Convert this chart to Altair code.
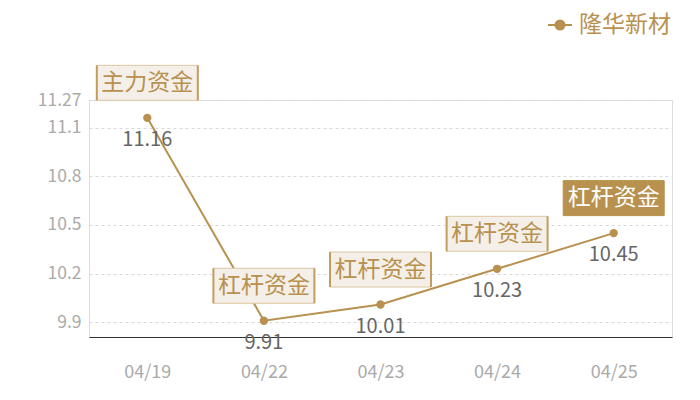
import altair as alt
import pandas as pd

dates = ["04/19", "04/22", "04/23", "04/24", "04/25"]
values = [11.16, 9.91, 10.01, 10.23, 10.45]
tags = ["主力资金", "杠杆资金", "杠杆资金", "杠杆资金", "杠杆资金"]
highlight = [False, False, False, False, True]
series_name = "隆华新材"
y_ticks = [9.9, 10.2, 10.5, 10.8, 11.1, 11.27]
y_domain = [9.81, 11.27]

GOLD = "#b8914f"
FONT = "Noto Sans CJK SC"

df = pd.DataFrame({
    "date": dates,
    "value": values,
    "tag": tags,
    "hl": highlight,
    "series": [series_name] * len(dates),
})

x = alt.X("date:N", sort=dates, scale=alt.Scale(type="point", padding=0.5),
          axis=alt.Axis(title=None, labelAngle=0, ticks=False, grid=False,
                        domain=True, domainColor="#333333", domainWidth=1,
                        labelColor="#aaaaaa", labelFontSize=18, labelPadding=26,
                        labelFont=FONT))
y = alt.Y("value:Q", scale=alt.Scale(domain=y_domain, nice=False, zero=False),
          axis=alt.Axis(title=None, values=y_ticks, ticks=False, domain=False,
                        grid=True, gridColor="#d9d9d9", gridDash=[3, 3],
                        labelColor="#aaaaaa", labelFontSize=17.5, labelPadding=8,
                        labelFont=FONT, labelFlush=False,
                        labelExpr="format(datum.value, '.4~g')"))

base = alt.Chart(df)

line = base.mark_line(strokeWidth=2).encode(
    x=x, y=y,
    color=alt.Color("series:N", scale=alt.Scale(range=[GOLD]),
                    legend=alt.Legend(title=None, orient="none", legendX=458, legendY=-88,
                                      symbolType="M-1,0H-0.375M0.375,0H1M0.375,0A0.375,0.375,0,1,1,-0.375,0A0.375,0.375,0,1,1,0.375,0Z",
                                      symbolSize=576, symbolStrokeWidth=2,
                                      symbolFillColor=GOLD, symbolStrokeColor="#cdb27f",
                                      labelFontSize=23, labelColor=GOLD, labelFont=FONT,
                                      labelOffset=6, labelLimit=200)),
)

points = base.mark_circle(size=70, opacity=1, color=GOLD).encode(x=x, y=y)

value_labels = base.mark_text(fontSize=20, color="#666666", font=FONT,
                              baseline="middle", yOffset=22).encode(
    x=x, y=y, text=alt.Text("value:Q", format=".2f"))

boxes = base.mark_rect(width=101, height=35, yOffset=-35, strokeWidth=1).encode(
    x=x, y=y,
    fill=alt.condition("datum.hl", alt.value(GOLD), alt.value("#f4efe8")),
    stroke=alt.condition("datum.hl", alt.value(GOLD), alt.value("#dcc7a2")),
)

sides_l = base.transform_filter("!datum.hl").mark_rule(
    color="#c39d5e", strokeWidth=2, xOffset=-50.5, yOffset=-52.5, y2Offset=-17.5).encode(
    x=x, y=y, y2="value:Q")
sides_r = base.transform_filter("!datum.hl").mark_rule(
    color="#c39d5e", strokeWidth=2, xOffset=50.5, yOffset=-52.5, y2Offset=-17.5).encode(
    x=x, y=y, y2="value:Q")

box_text = base.mark_text(fontSize=23, font=FONT, baseline="middle", yOffset=-35).encode(
    x=x, y=y, text="tag:N",
    color=alt.condition("datum.hl", alt.value("#ffffff"), alt.value(GOLD)),
)

chart = alt.layer(line, points, value_labels, boxes, sides_l, sides_r, box_text).properties(
    width=583, height=237,
    autosize=alt.AutoSizeParams(type="none"),
    padding={"left": 81, "top": 92, "right": 20, "bottom": 55},
).configure_view(stroke=None).configure(background="white")

chart.save("out.html", embed_options={"renderer": "svg", "actions": False})
